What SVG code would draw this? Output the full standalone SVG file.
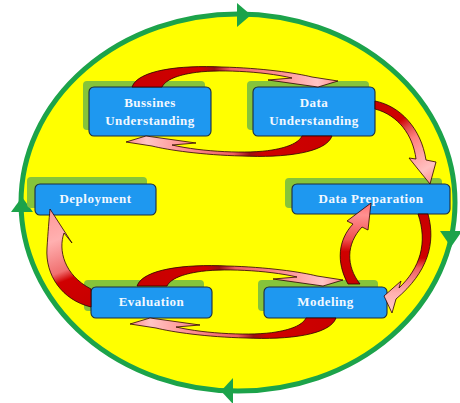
<svg xmlns="http://www.w3.org/2000/svg" width="460" height="403" viewBox="0 0 460 403">
<style>
.sh{fill:#86c43a}
.bx{fill:#1e98f0;stroke:#1c2c40;stroke-width:1.1}
.tx{font-family:"Liberation Serif","Times New Roman",serif;font-weight:bold;font-size:13px;letter-spacing:0.5px;fill:#f2f8ff;text-anchor:middle}
.ar{stroke:#2a0000;stroke-width:0.8;stroke-linejoin:round}
.cy{fill:#1ca34a}
</style>
<defs>
<linearGradient id="gH" gradientUnits="userSpaceOnUse" x1="132" y1="0" x2="338" y2="0">
<stop offset="0" stop-color="#c80000"/>
<stop offset="0.33" stop-color="#d00000"/>
<stop offset="0.4" stop-color="#9a1010"/>
<stop offset="0.48" stop-color="#f06060"/>
<stop offset="0.75" stop-color="#ff9a9a"/>
<stop offset="0.9" stop-color="#ffc4c4"/>
<stop offset="1" stop-color="#ff8a8a"/>
</linearGradient>
<linearGradient id="g1" gradientUnits="userSpaceOnUse" x1="375" y1="101" x2="430" y2="184">
<stop offset="0" stop-color="#c80000"/>
<stop offset="0.3" stop-color="#d00000"/>
<stop offset="0.4" stop-color="#e04848"/>
<stop offset="0.52" stop-color="#ff8080"/>
<stop offset="0.85" stop-color="#ffc0c0"/>
<stop offset="1" stop-color="#ff9090"/>
</linearGradient>
<linearGradient id="g2" gradientUnits="userSpaceOnUse" x1="0" y1="213" x2="0" y2="313">
<stop offset="0" stop-color="#c80000"/>
<stop offset="0.45" stop-color="#d00000"/>
<stop offset="0.55" stop-color="#f06060"/>
<stop offset="0.8" stop-color="#ffb0b0"/>
<stop offset="1" stop-color="#ffc8c8"/>
</linearGradient>
<linearGradient id="g3" gradientUnits="userSpaceOnUse" x1="0" y1="284" x2="0" y2="203">
<stop offset="0" stop-color="#c80000"/>
<stop offset="0.4" stop-color="#d00000"/>
<stop offset="0.55" stop-color="#f05050"/>
<stop offset="0.85" stop-color="#ff9090"/>
<stop offset="1" stop-color="#ff7070"/>
</linearGradient>
<linearGradient id="g4" gradientUnits="userSpaceOnUse" x1="91" y1="300" x2="55" y2="209">
<stop offset="0" stop-color="#c80000"/>
<stop offset="0.28" stop-color="#d00000"/>
<stop offset="0.38" stop-color="#f07070"/>
<stop offset="0.7" stop-color="#ffb0b0"/>
<stop offset="1" stop-color="#ff9a9a"/>
</linearGradient>
<path id="arc" class="ar" fill="url(#gH)" d="M132,87 C138,70 180,65 222,67 C262,68 296,73 312,77 L338,81 L318,87 L268,80 L292,78 C262,71 215,69 192,73 C174,76 165,81 162,87 Z"/>
</defs>

<g id="cycle">
<ellipse cx="238" cy="202.5" rx="217" ry="188.5" fill="#ffff00" stroke="#1ca34a" stroke-width="5"/>
<polygon class="cy" points="237,3 251,15 237,27"/>
<polygon class="cy" points="11,212 22,197 33,212"/>
<polygon class="cy" points="440,231 451,247 462,231"/>
<polygon class="cy" points="233,378 221,391 233,404"/>
</g>

<g id="business-understanding">
<rect class="sh" x="83" y="81" width="122" height="49" rx="4"/>
<rect class="bx" x="89" y="87" width="122" height="49" rx="5"/>
<text class="tx" x="150" y="107">Bussines</text>
<text class="tx" x="150" y="125">Understanding</text>
</g>
<g id="data-understanding">
<rect class="sh" x="247" y="81" width="122" height="49" rx="4"/>
<rect class="bx" x="253" y="87" width="122" height="49" rx="5"/>
<text class="tx" x="314" y="107">Data</text>
<text class="tx" x="314" y="125">Understanding</text>
</g>
<g id="data-preparation">
<rect class="sh" x="285" y="178" width="157" height="30" rx="4"/>
<rect class="bx" x="292" y="184" width="158" height="30" rx="5"/>
<text class="tx" x="371" y="203">Data Preparation</text>
</g>
<g id="deployment">
<rect class="sh" x="27" y="177" width="120" height="31" rx="4"/>
<rect class="bx" x="35" y="184" width="121" height="31" rx="5"/>
<text class="tx" x="95.5" y="203">Deployment</text>
</g>
<g id="evaluation">
<rect class="sh" x="84" y="280" width="120" height="31" rx="4"/>
<rect class="bx" x="91" y="287" width="121" height="31" rx="5"/>
<text class="tx" x="151.5" y="306">Evaluation</text>
</g>
<g id="modeling">
<rect class="sh" x="258" y="280" width="120" height="31" rx="4"/>
<rect class="bx" x="264" y="287" width="123" height="31" rx="5"/>
<text class="tx" x="325.5" y="306">Modeling</text>
</g>

<g id="connectors">
<use href="#arc"/>
<use href="#arc" transform="rotate(180 232 111.5)"/>
<use href="#arc" transform="translate(5 199)"/>
<use href="#arc" transform="translate(4 182) rotate(180 232 111.5)"/>
<path class="ar" fill="url(#g1)" d="M375,101 C400,106 421,128 426,160 L436,162 L430,184 L409,158 L416,159 C413,135 398,115 375,109 Z"/>
<path class="ar" fill="url(#g2)" d="M428,214 C436,243 428,272 396,299 L392,313 L384,296 L401,281 L399,288 C420,268 428,243 418,214 Z"/>
<path class="ar" fill="url(#g3)" d="M348,284 C336,262 338,240 353,224 L347,221 L371,203 L368,230 L362,227 C346,244 346,266 360,284 Z"/>
<path class="ar" fill="url(#g4)" d="M91,307 C62,300 45,275 47,248 C48,232 49,220 50,209 L72,243 L64,233 C58,250 64,275 91,289 Z"/>
</g>
</svg>
